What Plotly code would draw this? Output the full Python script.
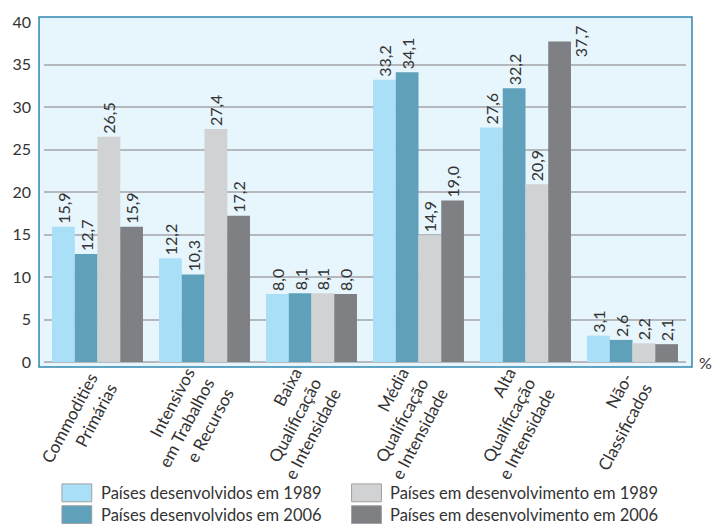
import plotly.graph_objects as go

categories = [
    "Commodities<br>Primárias",
    "Intensivos<br>em Trabalhos<br>e Recursos",
    "Baixa<br>Qualificação<br>e Intensidade",
    "Média<br>Qualificação<br>e Intensidade",
    "Alta<br>Qualificação<br>e Intensidade",
    "Não-<br>Classificados",
]
series_names = [
    "Países desenvolvidos em 1989",
    "Países desenvolvidos em 2006",
    "Países em desenvolvimento em 1989",
    "Países em desenvolvimento em 2006",
]
dev_1989 = [15.9, 12.2, 8.0, 33.2, 27.6, 3.1]
dev_2006 = [12.7, 10.3, 8.1, 34.1, 32.2, 2.6]
emdev_1989 = [26.5, 27.4, 8.1, 14.9, 20.9, 2.2]
emdev_2006 = [15.9, 17.2, 8.0, 19.0, 37.7, 2.1]
y_ticks = [0, 5, 10, 15, 20, 25, 30, 35, 40]

colors = ["#a9dff7", "#5fa0bb", "#d1d2d4", "#7f8084"]
FONT = "Lato"
TXT = "#333333"

W, H = 713, 524
ML, MR, MT, MB = 41, 27, 19, 162
PW, PH = W - ML - MR, H - MT - MB


def px(x):
    return (x - ML) / PW


def py(y):
    return (H - MB - y) / PH


def fmt(v):
    return f"{v:.1f}".replace(".", ",")


all_series = [dev_1989, dev_2006, emdev_1989, emdev_2006]
fig = go.Figure()
for name, vals, col in zip(series_names, all_series, colors):
    texts = [fmt(v) if v < 36 else "" for v in vals]
    fig.add_trace(go.Bar(
        x=categories, y=vals, name=name, marker=dict(color=col, line=dict(width=0)),
        text=texts, textposition="outside", textangle=-90, cliponaxis=False,
        constraintext="none",
        textfont=dict(family=FONT, size=16, color=TXT), showlegend=False,
    ))

# label beside the tallest bar (no room above it)
n_series = len(all_series)
group_w = 0.85
bar_w = group_w / n_series
for si, vals in enumerate(all_series):
    for ci, v in enumerate(vals):
        if v >= 36:
            off = -group_w / 2 + bar_w * (si + 0.5)
            fig.add_annotation(
                x=ci + off, y=v, text=fmt(v), textangle=270, showarrow=False,
                xshift=21, yshift=0,
                font=dict(family=FONT, size=16, color=TXT),
            )

# outer frame
fig.add_shape(type="rect", xref="paper", yref="paper",
              x0=px(36), x1=px(692), y0=py(367), y1=py(14),
              line=dict(color="#2e86b0", width=1.5), fillcolor="#e7f5fc", layer="below")

# custom legend
leg_pos = [(59, 485), (59, 507), (350, 485), (350, 507)]
for (lx, ly), name, col in zip(leg_pos, series_names, colors):
    fig.add_shape(type="rect", xref="paper", yref="paper",
                  x0=px(lx), x1=px(lx + 30), y0=py(ly + 18), y1=py(ly),
                  line=dict(color="#a0a0a0", width=1), fillcolor=col)
    fig.add_annotation(xref="paper", yref="paper", x=px(lx + 37), y=py(ly + 9),
                       text=name, showarrow=False, xanchor="left", yanchor="middle",
                       font=dict(family=FONT, size=16.5, color=TXT))

fig.add_annotation(xref="paper", yref="paper", x=px(697), y=py(362),
                   text="%", showarrow=False, xanchor="left", yanchor="middle",
                   font=dict(family=FONT, size=16, color=TXT))

fig.update_layout(
    width=W, height=H, margin=dict(l=ML, r=MR, t=MT, b=MB),
    paper_bgcolor="white", plot_bgcolor="#e7f5fc",
    barmode="group", bargap=0.15, bargroupgap=0,
    font=dict(family=FONT, size=16, color=TXT),
    xaxis=dict(tickangle=-62, tickfont=dict(family=FONT, size=17, color=TXT),
               showgrid=False, showline=False, ticks="",
               ticklabelstandoff=7, ticklabelshift=3),
    yaxis=dict(range=[0, 40], tickvals=y_ticks, showgrid=True, gridcolor="#b5b9bd",
               gridwidth=1.5, zeroline=True, zerolinecolor="#b5b9bd", zerolinewidth=1.5,
               tickfont=dict(family=FONT, size=16, color=TXT), ticks="",
               ticklabelstandoff=12, showline=False),
)

fig.write_html("out.html")
